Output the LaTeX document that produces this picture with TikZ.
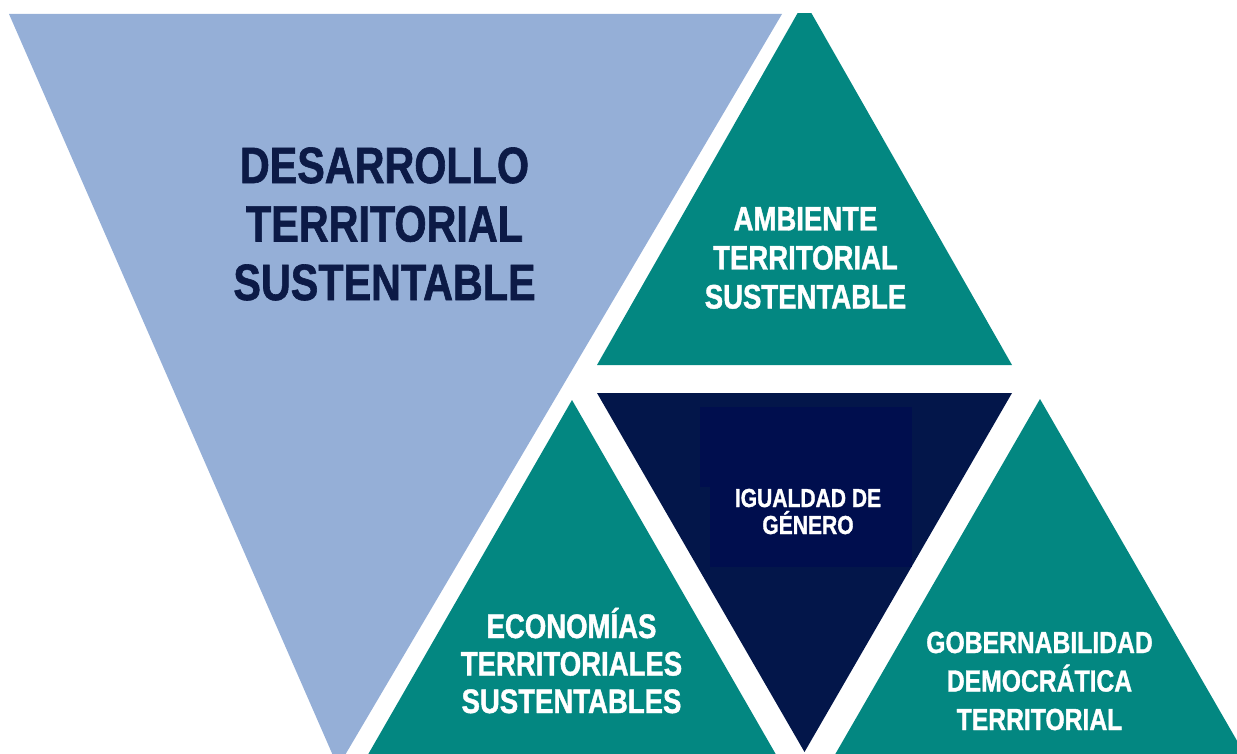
\documentclass[tikz,border=0pt]{standalone}
\usepackage{fontspec}
\newfontfamily\lab[FakeStretch=0.81,FakeBold=1.2]{Liberation Sans}
\definecolor{lblue}{HTML}{95AFD7}
\definecolor{teal1}{HTML}{038781}
\definecolor{navy1}{HTML}{03164A}
\definecolor{navy2}{HTML}{000E4E}
\definecolor{txtnavy}{HTML}{0C1A46}
\begin{document}
\begin{tikzpicture}[x=1pt,y=-1pt,
  lbl/.style={align=center, inner sep=0pt, anchor=base},
  lblfont/.style 2 args={font=\lab\bfseries\fontsize{#1}{#2}\selectfont}]
\useasboundingbox (0,0) rectangle (1237,754);
\begin{scope}
\clip (0,14) rectangle (1237,754);
\fill[lblue] (9,14) -- (782,14) -- (338,767) -- cycle;
\fill[teal1] (804.5,1) -- (1012,365) -- (597,365) -- cycle;
\fill[navy1] (597,393) -- (1012,393) -- (804.5,752) -- cycle;
\fill[navy2] (700,407) rectangle (912,487);
\fill[navy2] (710,487) rectangle (912,567);
\fill[teal1] (572,400) -- (782,765) -- (362,765) -- cycle;
\fill[teal1] (1040,399) -- (1251,765) -- (829,765) -- cycle;
\end{scope}
\node[lbl, text=txtnavy, lblfont={51}{58.5}] (dts) at (384.5,300) {DESARROLLO\\TERRITORIAL\\SUSTENTABLE};
\node[lbl, text=white, lblfont={34}{39}] (ats) at (805.5,308.5) {AMBIENTE\\TERRITORIAL\\SUSTENTABLE};
\node[lbl, text=white, lblfont={34}{37.5}] (ets) at (571.5,713) {ECONOMÍAS\\TERRITORIALES\\SUSTENTABLES};
\node[lbl, text=white, lblfont={30.5}{38.5}] (gdt) at (1039.5,730) {GOBERNABILIDAD\\DEMOCRÁTICA\\TERRITORIAL};
\node[lbl, text=white, lblfont={26}{27}] (igu) at (808,534) {IGUALDAD DE\\GÉNERO};
\end{tikzpicture}
\end{document}
